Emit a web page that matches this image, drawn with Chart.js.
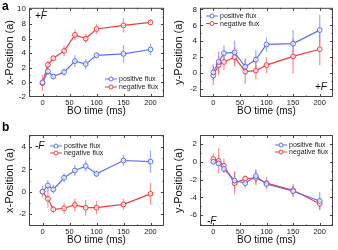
<!DOCTYPE html>
<html lang="en">
<head>
<meta charset="UTF-8" />
<title>BO time panels</title>
<script src="https://cdn.jsdelivr.net/npm/chart.js"></script>
<style>
  body { margin: 0; background: #fff; font-family: "Liberation Sans", Arial, sans-serif; }
  #wrap { position: relative; width: 338px; height: 250px; overflow: hidden; }
  #wrap canvas { position: absolute; }
  .tag { position: absolute; font-weight: bold; font-size: 12px; line-height: 12px; color: #000; }
</style>
</head>
<body>
<div id="wrap">
  <canvas id="pa" width="169" height="125" style="left:0;top:0"></canvas>
  <canvas id="pb" width="169" height="125" style="left:169px;top:0"></canvas>
  <canvas id="pc" width="169" height="125" style="left:0;top:125px"></canvas>
  <canvas id="pd" width="169" height="125" style="left:169px;top:125px"></canvas>
  <div class="tag" style="left:2px;top:0">a</div>
  <div class="tag" style="left:2px;top:121px">b</div>
</div>
<script>
  // BO time (ms)
  const times = [0, 10, 20, 40, 60, 80, 100, 150, 200];
  const timeTicks = [0, 50, 100, 150, 200];
  const seriesNames = ['positive flux', 'negative flux'];

  // a: +F, x-Position
  const aPos    = [0, 1.5, 0.8, 1.4, 2.9, 2.5, 3.7, 3.9, 4.5];
  const aPosErr = [0.4, 0.5, 0.3, 0.5, 0.8, 0.7, 0.4, 1.2, 0.8];
  const aNeg    = [-0.1, 2.4, 3.3, 4.3, 6.5, 6.0, 7.3, 7.8, 8.2];
  const aNegErr = [1.1, 0.6, 0.4, 0.7, 0.7, 0.6, 0.7, 1.0, 0.4];
  const aTicks  = [-2, 0, 2, 4, 6, 8, 10];

  // +F, y-Position
  const bPos    = [0.1, 1.4, 2.5, 2.6, 0.8, 1.7, 3.6, 3.7, 5.4];
  const bPosErr = [1.0, 1.3, 1.0, 1.5, 1.0, 1.2, 0.9, 1.7, 1.9];
  const bNeg    = [-0.3, 1.0, 1.4, 2.0, 0.2, 0.3, 1.0, 2.1, 3.0];
  const bNegErr = [1.2, 1.2, 1.0, 1.2, 1.6, 1.1, 1.0, 2.2, 2.0];
  const bTicks  = [-2, 0, 2, 4, 6, 8];

  // b: -F, x-Position
  const cPos    = [0, 0.55, 0.2, 1.25, 1.9, 2.3, 1.6, 2.8, 2.7];
  const cPosErr = [0.1, 0.5, 0.4, 0.4, 0.5, 0.5, 0.3, 0.5, 1.0];
  const cNeg    = [0, -0.65, -1.6, -1.5, -1.2, -1.45, -1.45, -1.15, -0.2];
  const cNegErr = [0.5, 0.8, 0.3, 0.5, 0.6, 0.7, 0.6, 0.5, 1.0];
  const cTicks  = [-2, 0, 2, 4];

  // -F, y-Position
  const dPos    = [0, -0.2, -0.8, -2.1, -2.4, -1.6, -2.5, -3.3, -4.4];
  const dPosErr = [0.3, 0.3, 0.4, 1.0, 0.5, 0.8, 0.4, 0.6, 1.0];
  const dNeg    = [0.3, 0.1, -0.45, -2.4, -1.9, -1.8, -2.4, -3.2, -4.7];
  const dNegErr = [0.6, 1.4, 0.8, 1.3, 0.4, 0.8, 0.7, 0.7, 0.7];
  const dTicks  = [-6, -4, -2, 0, 2];

  const FONT = '"Liberation Sans", Arial, sans-serif';
  const BLUE = '#5b6ef5';
  const RED = '#f03c3c';
  const BLUE_ERR = 'rgba(110,130,255,0.65)';
  const RED_ERR = 'rgba(255,90,90,0.65)';

  // draws error bars, frame with inner ticks, legend and the +F / -F label
  const extras = {
    id: 'extras',
    beforeDatasetsDraw(chart, args, opts) {
      const ctx = chart.ctx, xs = chart.scales.x, ys = chart.scales.y;
      ctx.save();
      ctx.lineWidth = 1.3;
      opts.errors.forEach((errs, di) => {
        ctx.strokeStyle = di === 0 ? BLUE_ERR : RED_ERR;
        chart.data.datasets[di].data.forEach((p, i) => {
          const px = xs.getPixelForValue(p.x);
          ctx.beginPath();
          ctx.moveTo(px, ys.getPixelForValue(p.y - errs[i]));
          ctx.lineTo(px, ys.getPixelForValue(p.y + errs[i]));
          ctx.stroke();
        });
      });
      ctx.restore();
    },
    afterDraw(chart, args, opts) {
      const ctx = chart.ctx, a = chart.chartArea, xs = chart.scales.x, ys = chart.scales.y;
      ctx.save();
      ctx.strokeStyle = '#444';
      ctx.lineWidth = 1;
      ctx.strokeRect(a.left + 0.5, a.top + 0.5, a.right - a.left - 1, a.bottom - a.top - 1);
      ctx.beginPath();
      for (let v = -25; v <= 225; v += 25) {
        if (v <= xs.min || v >= xs.max) continue;
        const px = Math.round(xs.getPixelForValue(v)) + 0.5;
        const len = v % 50 === 0 ? 3 : 1.5;
        ctx.moveTo(px, a.bottom); ctx.lineTo(px, a.bottom - len);
        ctx.moveTo(px, a.top); ctx.lineTo(px, a.top + len);
      }
      for (let v = Math.ceil(ys.min); v <= ys.max; v += 1) {
        if (v <= ys.min) continue;
        const py = Math.round(ys.getPixelForValue(v)) + 0.5;
        const len = v % 2 === 0 ? 3 : 1.5;
        ctx.moveTo(a.left, py); ctx.lineTo(a.left + len, py);
        ctx.moveTo(a.right, py); ctx.lineTo(a.right - len, py);
      }
      ctx.stroke();

      // legend
      const L = opts.legend;
      ctx.font = '7px ' + FONT;
      ctx.textBaseline = 'middle';
      chart.data.datasets.forEach((ds, i) => {
        const y = L.y + i * L.dy;
        ctx.strokeStyle = ds.borderColor;
        ctx.lineWidth = 1;
        ctx.beginPath();
        ctx.moveTo(L.x, y); ctx.lineTo(L.x + 12, y);
        ctx.stroke();
        ctx.beginPath();
        ctx.arc(L.x + 6, y, 2, 0, Math.PI * 2);
        ctx.fillStyle = '#fff';
        ctx.fill();
        ctx.stroke();
        ctx.fillStyle = '#222';
        ctx.fillText(ds.label, L.x + 14, y + 0.5);
      });

      // force label
      ctx.font = 'italic 10px ' + FONT;
      ctx.fillStyle = '#111';
      ctx.fillText(opts.tag.text, opts.tag.x, opts.tag.y);
      ctx.restore();
    }
  };

  function makePanel(id, p) {
    const canvasH = 125, xAxisH = 22;
    new Chart(document.getElementById(id), {
      type: 'scatter',
      data: {
        datasets: [
          { label: seriesNames[0], data: times.map((t, i) => ({ x: t, y: p.pos[i] })), borderColor: BLUE },
          { label: seriesNames[1], data: times.map((t, i) => ({ x: t, y: p.neg[i] })), borderColor: RED }
        ].map(ds => Object.assign(ds, {
          showLine: true,
          borderWidth: 1.2,
          pointRadius: 2.4,
          pointBorderWidth: 1,
          pointBackgroundColor: 'rgba(255,255,255,0.7)',
          pointBorderColor: ds.borderColor
        }))
      },
      options: {
        responsive: false,
        animation: false,
        devicePixelRatio: 1,
        layout: { padding: { top: p.top, right: 169 - p.right, left: 0, bottom: Math.max(0, canvasH - p.bottom - xAxisH) } },
        plugins: {
          legend: { display: false },
          tooltip: { enabled: false },
          extras: { errors: [p.posErr, p.negErr], legend: p.legend, tag: p.tag }
        },
        scales: {
          x: {
            type: 'linear', min: -25, max: 225,
            afterBuildTicks: s => { s.ticks = timeTicks.map(v => ({ value: v })); },
            afterFit: s => { s.height = Math.min(xAxisH, canvasH - p.bottom); },
            grid: { display: false, drawTicks: false },
            border: { display: false },
            ticks: { font: { size: 7.5, family: FONT }, color: '#222', padding: 1, maxRotation: 0 },
            title: { display: true, text: 'BO time (ms)', font: { size: 10, family: FONT }, color: '#111', padding: { top: 0, bottom: 1.5 } }
          },
          y: {
            min: p.yMin, max: p.yMax,
            afterBuildTicks: s => { s.ticks = p.ticks.map(v => ({ value: v })); },
            afterFit: s => { s.width = p.left; },
            grid: { display: false, drawTicks: false },
            border: { display: false },
            ticks: { font: { size: 8, family: FONT }, color: '#222', padding: 3 },
            title: { display: true, text: p.yTitle, font: { size: 11, family: FONT }, color: '#111', padding: { top: 3, bottom: 0 } }
          }
        }
      },
      plugins: [extras]
    });
  }

  makePanel('pa', {
    pos: aPos, posErr: aPosErr, neg: aNeg, negErr: aNegErr, ticks: aTicks,
    yMin: -2, yMax: 10.2, yTitle: 'x-Position (a)',
    left: 29, top: 4, right: 166, bottom: 97,
    legend: { x: 105, y: 79, dy: 8 }, tag: { text: '+F', x: 35, y: 16 }
  });
  makePanel('pb', {
    pos: bPos, posErr: bPosErr, neg: bNeg, negErr: bNegErr, ticks: bTicks,
    yMin: -3, yMax: 8.2, yTitle: 'y-Position (a)',
    left: 31, top: 4, right: 165, bottom: 97,
    legend: { x: 37, y: 16, dy: 7.5 }, tag: { text: '+F', x: 146, y: 87 }
  });
  makePanel('pc', {
    pos: cPos, posErr: cPosErr, neg: cNeg, negErr: cNegErr, ticks: cTicks,
    yMin: -3.1, yMax: 5.1, yTitle: 'x-Position (a)',
    left: 29, top: 10, right: 166, bottom: 101,
    legend: { x: 50, y: 21, dy: 7 }, tag: { text: '-F', x: 35, y: 21 }
  });
  makePanel('pd', {
    pos: dPos, posErr: dPosErr, neg: dNeg, negErr: dNegErr, ticks: dTicks,
    yMin: -7.2, yMax: 3, yTitle: 'y-Position (a)',
    left: 31, top: 10, right: 165, bottom: 101,
    legend: { x: 106, y: 20, dy: 7 }, tag: { text: '-F', x: 38, y: 96 }
  });
</script>
</body>
</html>
